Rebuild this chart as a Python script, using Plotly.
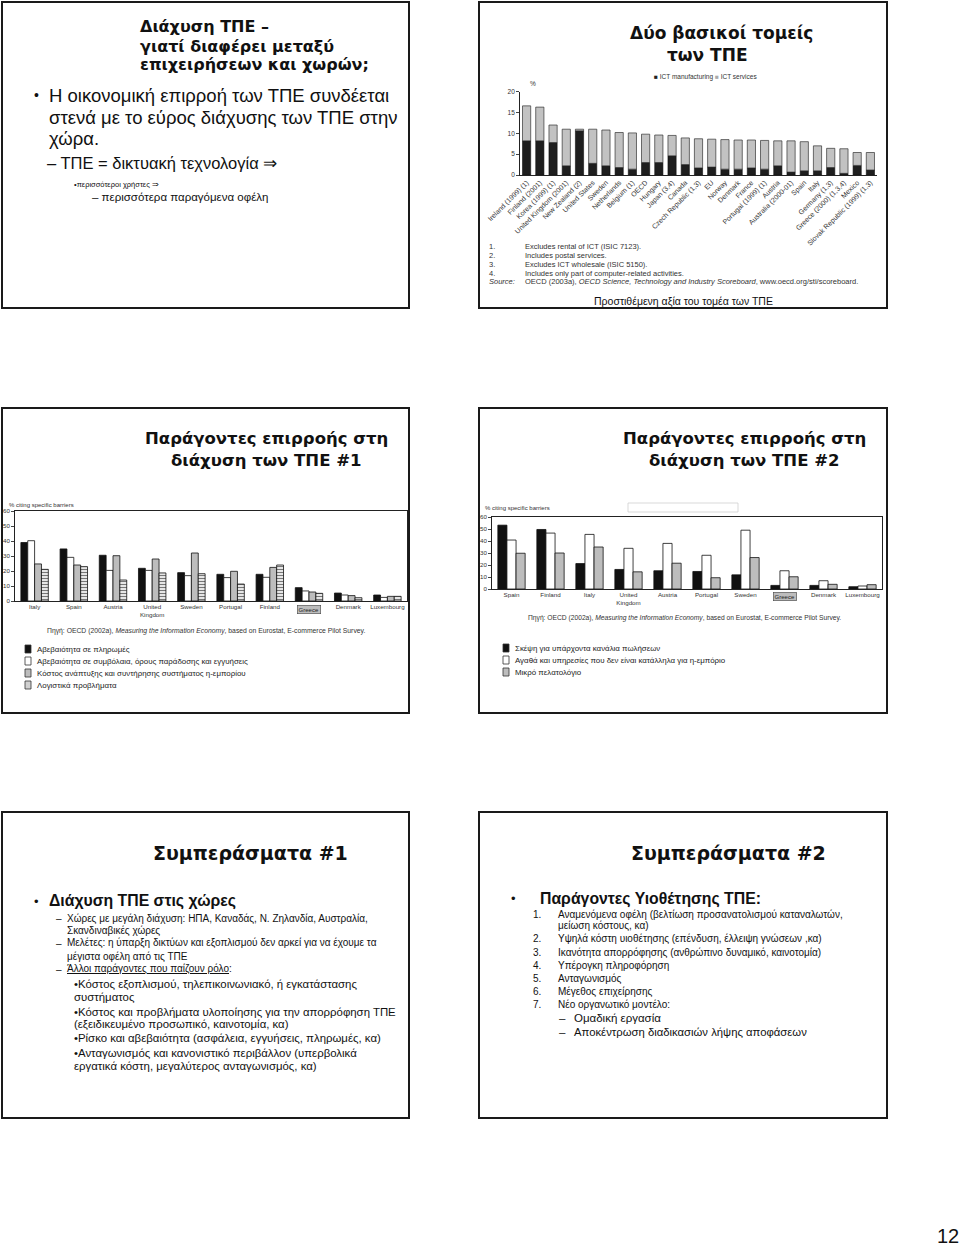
import plotly.graph_objects as go

W, H = 960, 1247

# ---------------- Chart 1: ICT value added ----------------
ict_countries = ["Ireland (1999) (1)", "Finland (2001)", "Korea (1999) (1)", "United Kingdom (2001)",
                 "New Zealand (2)", "United States", "Sweden", "Netherlands", "Belgium (1)", "OECD",
                 "Hungary", "Japan (3,4)", "Canada", "Czech Republic (1,3)", "EU", "Norway", "Denmark",
                 "France", "Portugal (1999) (1)", "Austria", "Australia (2000-01)", "Spain", "Italy",
                 "Germany (1,3)", "Greece (2000) (1,3,4)", "Mexico", "Slovak Republic (1999) (1,3)"]
ict_manufacturing = [8.2, 8.2, 7.8, 2.2, 10.6, 2.8, 2.2, 1.8, 1.4, 3.0, 3.0, 4.6, 2.5, 1.7, 1.9,
                     1.4, 1.4, 1.7, 1.4, 2.2, 0.7, 1.0, 1.0, 1.8, 0.4, 2.3, 1.2]
ict_services = [8.4, 8.1, 4.2, 8.8, 0.4, 8.2, 8.6, 8.4, 8.7, 6.8, 6.6, 4.9, 6.4, 7.0, 6.7,
                7.1, 7.0, 6.7, 6.9, 6.0, 7.5, 7.0, 6.0, 4.6, 5.9, 3.1, 4.2]
ict_ticks = [0, 5, 10, 15, 20]

# ---------------- Chart 2: barriers #1 ----------------
b1_countries = ["Italy", "Spain", "Austria", "United<br>Kingdom", "Sweden", "Portugal",
                "Finland", "Greece", "Denmark", "Luxembourg"]
b1_payments = [39, 34.7, 30.5, 21.8, 18.9, 17.8, 17.8, 8.9, 5.3, 4.0]
b1_contracts = [40.2, 29.1, 20.4, 20.4, 16.9, 15.6, 15.8, 6.7, 4.0, 2.4]
b1_cost = [24.7, 24.0, 30.2, 28.0, 32.0, 19.8, 22.4, 6.0, 3.6, 3.1]
b1_logistics = [21.1, 22.9, 14.0, 18.7, 18.2, 11.3, 24.0, 5.1, 2.2, 3.1]
b1_names = ["Αβεβαιότητα σε πληρωμές",
            "Αβεβαιότητα σε συμβόλαια, όρους παράδοσης και εγγυήσεις",
            "Κόστος ανάπτυξης και συντήρησης συστήματος η-εμπορίου",
            "Λογιστικά προβλήματα"]

# ---------------- Chart 3: barriers #2 ----------------
b2_countries = ["Spain", "Finland", "Italy", "United<br>Kingdom", "Austria", "Portugal",
                "Sweden", "Greece", "Denmark", "Luxembourg"]
b2_channels = [53.2, 49.6, 21.2, 16.3, 15.2, 14.6, 11.8, 3.0, 3.0, 1.9]
b2_goods = [40.8, 46.6, 45.5, 33.9, 38.0, 28.1, 49.0, 15.2, 6.9, 2.5]
b2_clients = [29.8, 30.0, 35.0, 14.3, 21.5, 9.4, 26.2, 10.2, 3.9, 3.6]
b2_names = ["Σκέψη για υπάρχοντα κανάλια πωλήσεων",
            "Αγαθά και υπηρεσίες που δεν είναι κατάλληλα για η-εμπόριο",
            "Μικρό πελατολόγιο"]
barrier_ticks = [0, 10, 20, 30, 40, 50, 60]


def px(x):
    return x / W


def py(y):
    return 1 - y / H


BODY = "Liberation Sans, Arial, sans-serif"
TITLE = "DejaVu Sans, Verdana, sans-serif"

fig = go.Figure()
ann = []
shapes = []


def text(x, y, s, size, family=BODY, anchor="left", color="#111", bold=False, **kw):
    if bold:
        s = "<b>" + s + "</b>"
    ann.append(dict(x=px(x), y=py(y), xref="paper", yref="paper", text=s, showarrow=False,
                    xanchor=anchor, yanchor="middle", font=dict(size=size, family=family, color=color), **kw))


def box(x0, y0, x1, y1, color="#1a1a1a", width=2, fill=None):
    shapes.append(dict(type="rect", xref="paper", yref="paper", x0=px(x0), x1=px(x1), y0=py(y1), y1=py(y0),
                       line=dict(color=color, width=width), fillcolor=fill, layer="above" if fill is None else "below"))


# slide frames
box(2, 2, 409, 308)
box(479, 2, 887, 308)
box(2, 408, 409, 713)
box(479, 408, 887, 713)
box(2, 812, 409, 1118)
box(479, 812, 887, 1118)

# ---------- Slide 1 ----------
text(138, 27, "Διάχυση ΤΠΕ –", 16, TITLE, bold=True)
text(138, 46, "γιατί διαφέρει μεταξύ", 16, TITLE, bold=True)
text(138, 65, "επιχειρήσεων και χωρών;", 16, TITLE, bold=True)
text(32, 95, "•", 14)
text(47, 95, "Η οικονομική επιρροή των ΤΠΕ συνδέεται", 18.5)
text(47, 117, "στενά με το εύρος διάχυσης των ΤΠΕ στην", 18.5)
text(47, 139, "χώρα.", 18.5)
text(45, 163, "– ΤΠΕ = δικτυακή τεχνολογία ⇒", 16.5)
text(72, 184, "•περισσότεροι χρήστες ⇒", 7.5)
text(90, 197, "– περισσότερα παραγόμενα οφέλη", 11.5)

# ---------- Slide 2 ----------
text(721, 33, "Δύο βασικοί τομείς", 17, TITLE, anchor="center", bold=True)
text(707, 55, "των ΤΠΕ", 17, TITLE, anchor="center", bold=True)
text(528, 84, "%", 6.5, color="#333")
text(652, 77, "<span style='color:#222'>■</span> ICT manufacturing <span style='color:#aaa'>■</span> ICT services",
     6.5, color="#333")
notes_num = ["1.", "2.", "3.", "4.", "<i>Source:</i>"]
notes_txt = ["Excludes rental of ICT (ISIC 7123).", "Includes postal services.",
             "Excludes ICT wholesale (ISIC 5150).", "Includes only part of computer-related activities.",
             "OECD (2003a), <i>OECD Science, Technology and Industry Scoreboard</i>, www.oecd.org/sti/scoreboard."]
for i, (n, t) in enumerate(zip(notes_num, notes_txt)):
    text(487, 246 + 9 * i, n, 7.5, color="#333")
    text(523, 246 + 9 * i, t, 7.5, color="#333")
text(683, 301, "Προστιθέμενη αξία του τομέα των ΤΠΕ", 10.5, anchor="center")

fig.add_trace(go.Bar(x=ict_countries, y=ict_manufacturing, xaxis="x", yaxis="y", offsetgroup="ict",
                     width=0.62, marker=dict(color="#1e1e1e", line=dict(color="#111", width=0.6)),
                     name="ICT manufacturing"))
fig.add_trace(go.Bar(x=ict_countries, y=ict_services, base=ict_manufacturing, xaxis="x", yaxis="y",
                     offsetgroup="ict", width=0.62,
                     marker=dict(color="#c2c2c2", line=dict(color="#333", width=0.7)), name="ICT services"))

# ---------- Slide 3 ----------
text(266, 438, "Παράγοντες επιρροής στη", 16.5, TITLE, anchor="center", bold=True)
text(266, 460, "διάχυση των ΤΠΕ #1", 16.5, TITLE, anchor="center", bold=True)
text(7, 505, "% citing specific barriers", 6, color="#333")
text(206, 631, "Πηγή: OECD (2002a), <i>Measuring the Information Economy</i>, based on Eurostat, E-commerce Pilot Survey.",
     6.8, anchor="center", color="#333")

b1_series = [b1_payments, b1_contracts, b1_cost, b1_logistics]
b1_styles = [dict(color="#111111"), dict(color="white"), dict(color="#bdbdbd"),
             dict(color="#d9d9d9", pattern=dict(shape="-", fgcolor="#777", bgcolor="#e6e6e6", size=3, solidity=0.35))]
for i, (vals, st) in enumerate(zip(b1_series, b1_styles)):
    fig.add_trace(go.Bar(x=b1_countries, y=vals, xaxis="x2", yaxis="y2", offsetgroup="g%d" % i,
                         marker=dict(line=dict(color="#111", width=0.8), **st), name=b1_names[i]))
leg_fill = ["#111111", "white", "#bdbdbd", "#d0d0d0"]
for i, nm in enumerate(b1_names):
    yy = 649 + 12 * i
    box(25, yy - 4, 31, yy + 4, color="#333", width=0.8, fill=leg_fill[i])
    text(35, yy, nm, 7.9, color="#222")

# ---------- Slide 4 ----------
text(744, 438, "Παράγοντες επιρροής στη", 16.5, TITLE, anchor="center", bold=True)
text(744, 460, "διάχυση των ΤΠΕ #2", 16.5, TITLE, anchor="center", bold=True)
text(483, 508, "% citing specific barriers", 6, color="#333")
box(628, 503, 738, 512, color="#cfcfcf", width=0.8)
text(684, 618, "Πηγή: OECD (2002a), <i>Measuring the Information Economy</i>, based on Eurostat, E-commerce Pilot Survey.",
     6.7, anchor="center", color="#333")

b2_series = [b2_channels, b2_goods, b2_clients]
b2_styles = ["#111111", "white", "#bdbdbd"]
for i, (vals, c) in enumerate(zip(b2_series, b2_styles)):
    fig.add_trace(go.Bar(x=b2_countries, y=vals, xaxis="x3", yaxis="y3", offsetgroup="h%d" % i,
                         marker=dict(color=c, line=dict(color="#111", width=0.8)), name=b2_names[i]))
for i, nm in enumerate(b2_names):
    yy = 648 + 12 * i
    box(503, yy - 4, 509, yy + 4, color="#333", width=0.8, fill=b2_styles[i])
    text(513, yy, nm, 7.9, color="#222")

# ---------- Slide 5 ----------
text(250, 853, "Συμπεράσματα #1", 19, TITLE, anchor="center", bold=True)
text(32, 901, "•", 13)
text(47, 901, "Διάχυση ΤΠΕ στις χώρες", 15.8, bold=True)
s5 = [("–", "Χώρες με μεγάλη διάχυση: ΗΠΑ, Καναδάς, Ν. Ζηλανδία, Αυστραλία,", 918),
      ("", "Σκανδιναβικές χώρες", 930),
      ("–", "Μελέτες: η ύπαρξη δικτύων και εξοπλισμού δεν αρκεί για να έχουμε τα", 943),
      ("", "μέγιστα οφέλη από τις ΤΠΕ", 956),
      ("–", "<span style='text-decoration:underline'>Άλλοι παράγοντες που παίζουν ρόλο</span>:", 969)]
for d, t, yy in s5:
    if d:
        text(54, yy, d, 10)
    text(65, yy, t, 10)
s5b = [("•Κόστος εξοπλισμού, τηλεπικοινωνιακό, ή εγκατάστασης", 984),
       ("συστήματος", 997),
       ("•Κόστος και προβλήματα υλοποίησης για την απορρόφηση ΤΠΕ", 1012),
       ("(εξειδικευμένο προσωπικό, καινοτομία, κα)", 1024),
       ("•Ρίσκο και αβεβαιότητα (ασφάλεια, εγγυήσεις, πληρωμές, κα)", 1038),
       ("•Ανταγωνισμός και κανονιστικό περιβάλλον (υπερβολικά", 1053),
       ("εργατικά κόστη, μεγαλύτερος ανταγωνισμός, κα)", 1066)]
for t, yy in s5b:
    text(72, yy, t, 11.4)

# ---------- Slide 6 ----------
text(728, 853, "Συμπεράσματα #2", 19, TITLE, anchor="center", bold=True)
text(509, 899, "•", 13)
text(538, 899, "Παράγοντες Υιοθέτησης ΤΠΕ:", 15.8, bold=True)
s6 = [("1.", "Αναμενόμενα οφέλη (βελτίωση προσανατολισμού καταναλωτών,", 914),
      ("", "μείωση κόστους, κα)", 925),
      ("2.", "Υψηλά κόστη υιοθέτησης (επένδυση, έλλειψη γνώσεων ,κα)", 939),
      ("3.", "Ικανότητα απορρόφησης (ανθρώπινο δυναμικό, καινοτομία)", 952),
      ("4.", "Υπέρογκη πληροφόρηση", 965),
      ("5.", "Ανταγωνισμός", 978),
      ("6.", "Μέγεθος επιχείρησης", 991),
      ("7.", "Νέο οργανωτικό μοντέλο:", 1004)]
for n, t, yy in s6:
    if n:
        text(531, yy, n, 10)
    text(556, yy, t, 10)
text(557, 1018, "–", 11.5)
text(572, 1018, "Ομαδική εργασία", 11.5)
text(557, 1032, "–", 11.5)
text(572, 1032, "Αποκέντρωση διαδικασιών λήψης αποφάσεων", 11.3)

text(948, 1236, "12", 20, anchor="center")

# Greece highlights on x tick labels
ann.append(dict(x="Greece", xref="x2", y=py(609), yref="paper", text="Greece", showarrow=False,
                xanchor="center", yanchor="middle", bgcolor="#bdbdbd", bordercolor="#444", borderwidth=0.6,
                borderpad=1, font=dict(size=6, family=BODY, color="#222")))
ann.append(dict(x="Greece", xref="x3", y=py(597), yref="paper", text="Greece", showarrow=False,
                xanchor="center", yanchor="middle", bgcolor="#bdbdbd", bordercolor="#444", borderwidth=0.6,
                borderpad=1, font=dict(size=6, family=BODY, color="#222")))

b1_ticktext = ["" if c == "Greece" else c for c in b1_countries]
b2_ticktext = ["" if c == "Greece" else c for c in b2_countries]

axis_common = dict(showgrid=False, zeroline=False, linecolor="#222", linewidth=0.8, automargin=False)
tickf = dict(size=6.2, family=BODY, color="#333")

fig.update_layout(
    template="none",
    width=W, height=H, margin=dict(l=0, r=0, t=0, b=0, pad=0, autoexpand=False),
    paper_bgcolor="white", plot_bgcolor="white",
    barmode="group", bargap=0.3, bargroupgap=0, showlegend=False,
    annotations=ann, shapes=shapes,
    xaxis=dict(domain=[px(520), px(877)], anchor="y", showline=True, ticks="", tickangle=-45,
               tickfont=dict(size=7, family=BODY, color="#333"), **axis_common),
    yaxis=dict(domain=[py(175), py(91.7)], anchor="x", range=[0, 20], tickvals=ict_ticks, showline=True,
               ticks="outside", ticklen=3, tickfont=dict(size=6.5, family=BODY, color="#333"), **axis_common),
    xaxis2=dict(domain=[px(15), px(407)], anchor="y2", showline=True, mirror=True, ticks="",
                tickvals=b1_countries, ticktext=b1_ticktext, tickangle=0, tickfont=tickf, **axis_common),
    yaxis2=dict(domain=[py(601), py(511)], anchor="x2", range=[0, 60], tickvals=barrier_ticks, showline=True,
                mirror=True, ticks="outside", ticklen=3, tickfont=tickf, **axis_common),
    xaxis3=dict(domain=[px(492), px(882)], anchor="y3", showline=True, mirror=True, ticks="",
                tickvals=b2_countries, ticktext=b2_ticktext, tickangle=0, tickfont=tickf, **axis_common),
    yaxis3=dict(domain=[py(589), py(517)], anchor="x3", range=[0, 60], tickvals=barrier_ticks, showline=True,
                mirror=True, ticks="outside", ticklen=3, tickfont=tickf, **axis_common),
)

fig.write_html("out.html")
